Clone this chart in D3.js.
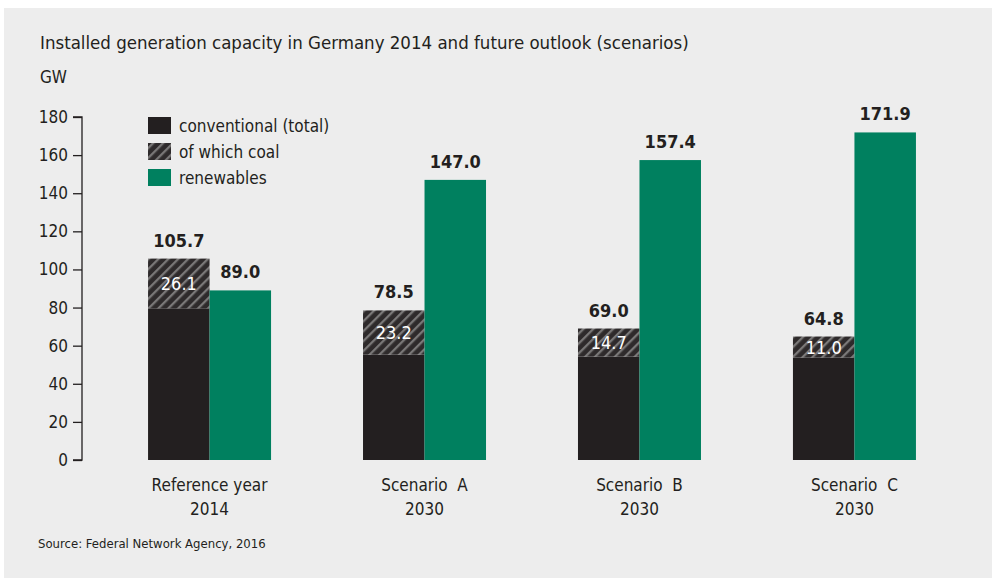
<!DOCTYPE html>
<html>
<head>
<meta charset="utf-8">
<script src="https://cdn.jsdelivr.net/npm/d3@7"></script>
<style>
  body { margin: 0; background: #fff; }
  svg text { font-family: "Liberation Sans Narrow", "DejaVu Sans Condensed", "Roboto", sans-serif; fill: #231f20; }
</style>
</head>
<body>
<svg id="chart" width="992" height="580"></svg>
<script>
const categories = ["Reference year|2014", "Scenario  A|2030", "Scenario  B|2030", "Scenario  C|2030"];
const conventional = [105.7, 78.5, 69.0, 64.8];
const coal = [26.1, 23.2, 14.7, 11.0];
const renewables = [89.0, 147.0, 157.4, 171.9];
const yTicks = [0, 20, 40, 60, 80, 100, 120, 140, 160, 180];
const legendItems = ["conventional (total)", "of which coal", "renewables"];

const width = 992;
const height = 580;
const darkCol = "#231f20";
const greenCol = "#00805f";

const svg = d3.select("#chart");

// grey panel
svg.append("rect")
    .attr("x", 4).attr("y", 8)
    .attr("width", width - 4).attr("height", 570)
    .attr("fill", "#ededed");

// hatch pattern for coal
const defs = svg.append("defs");
const pat = defs.append("pattern")
    .attr("id", "hatch")
    .attr("patternUnits", "userSpaceOnUse")
    .attr("width", 7).attr("height", 7)
    .attr("patternTransform", "rotate(45)");
pat.append("rect").attr("width", 7).attr("height", 7).attr("fill", "#2e2a2b");
pat.append("rect").attr("x", 0).attr("width", 2.3).attr("height", 7).attr("fill", "#7a7878");

const x = d3.scaleBand()
    .domain(categories)
    .range([101, 963])
    .paddingInner(0.43)
    .paddingOuter(0.22);

const y = d3.scaleLinear()
    .domain([0, 180])
    .range([460, 117]);

const barW = 61.5;

// title
svg.append("text")
    .attr("x", 40).attr("y", 49)
    .style("font-size", "18.5px")
    .text("Installed generation capacity in Germany 2014 and future outlook (scenarios)");

svg.append("text")
    .attr("x", 40).attr("y", 83)
    .style("font-size", "17px")
    .text("GW");

// y axis
const yAxis = d3.axisLeft(y)
    .tickValues(yTicks)
    .tickSize(9)
    .tickPadding(5);

const ga = svg.append("g")
    .attr("transform", "translate(82,0)")
    .call(yAxis);
ga.select(".domain").attr("stroke", darkCol).attr("stroke-width", 1.3)
    .attr("d", `M-9,${y(180)}H0V${y(0)}H-9`);
ga.selectAll(".tick line").attr("stroke", darkCol).attr("stroke-width", 1.3);
ga.selectAll(".tick text")
    .style("font-size", "17px")
    .attr("fill", darkCol);
ga.attr("font-family", null);

const groups = svg.selectAll(".grp")
    .data(categories)
    .enter()
    .append("g")
    .attr("class", "grp");

const cx = d => x(d) + x.bandwidth() / 2;

// conventional (non-coal part)
groups.append("rect")
    .attr("x", d => cx(d) - barW)
    .attr("width", barW)
    .attr("y", (d, i) => y(conventional[i] - coal[i]))
    .attr("height", (d, i) => y(0) - y(conventional[i] - coal[i]))
    .attr("fill", darkCol);

// coal part
groups.append("rect")
    .attr("x", d => cx(d) - barW)
    .attr("width", barW)
    .attr("y", (d, i) => y(conventional[i]))
    .attr("height", (d, i) => y(conventional[i] - coal[i]) - y(conventional[i]))
    .attr("fill", "url(#hatch)");

// renewables
groups.append("rect")
    .attr("x", d => cx(d))
    .attr("width", barW)
    .attr("y", (d, i) => y(renewables[i]))
    .attr("height", (d, i) => y(0) - y(renewables[i]))
    .attr("fill", greenCol);

// value labels
groups.append("text")
    .attr("x", d => cx(d) - barW / 2)
    .attr("y", (d, i) => y(conventional[i]) - 12)
    .attr("text-anchor", "middle")
    .style("font-size", "18px")
    .style("font-weight", "600")
    .text((d, i) => conventional[i].toFixed(1));

groups.append("text")
    .attr("x", d => cx(d) + barW / 2)
    .attr("y", (d, i) => y(renewables[i]) - 12)
    .attr("text-anchor", "middle")
    .style("font-size", "18px")
    .style("font-weight", "600")
    .text((d, i) => renewables[i].toFixed(1));

groups.append("text")
    .attr("x", d => cx(d) - barW / 2)
    .attr("y", (d, i) => (y(conventional[i]) + y(conventional[i] - coal[i])) / 2 + 6.5)
    .attr("text-anchor", "middle")
    .style("font-size", "18px")
    .style("fill", "#fff")
    .text((d, i) => coal[i].toFixed(1));

// category labels
groups.each(function(d) {
    const lines = d.split("|");
    const t = d3.select(this).append("text")
        .attr("text-anchor", "middle")
        .style("font-size", "17px")
        .style("white-space", "pre");
    lines.forEach((l, k) => {
        t.append("tspan")
            .attr("x", cx(d))
            .attr("y", 491 + k * 24)
            .text(l);
    });
});

// legend
const lg = svg.append("g").attr("transform", "translate(148,117)");
legendItems.forEach((name, i) => {
    lg.append("rect")
        .attr("x", 0).attr("y", i * 26)
        .attr("width", 23).attr("height", 17)
        .attr("fill", i === 0 ? darkCol : i === 1 ? "url(#hatch)" : greenCol);
    lg.append("text")
        .attr("x", 31).attr("y", i * 26 + 15)
        .style("font-size", "17px")
        .text(name);
});

// source
svg.append("text")
    .attr("x", 38).attr("y", 548)
    .style("font-size", "13px")
    .text("Source: Federal Network Agency, 2016");
</script>
</body>
</html>
